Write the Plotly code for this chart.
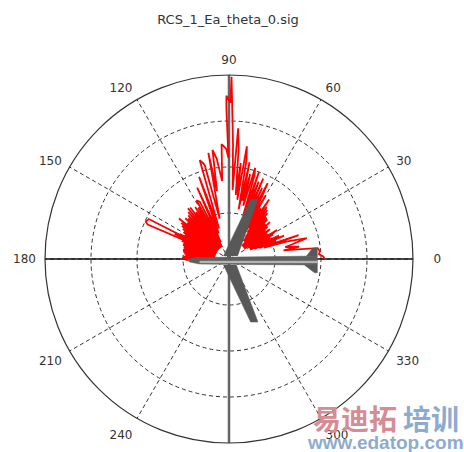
import numpy as np
import plotly.graph_objects as go

# Patron de radiacion (angulo, radio)
rcs_theta = [0, 1.5, 3, 5, 7, 8, 9, 10, 12, 13, 15, 17, 18, 19, 20, 21, 22, 23, 24, 25, 26, 27, 28, 29, 30, 31, 32, 33, 34, 35,
             36, 37, 38, 39, 40, 41, 42, 43, 44, 45, 46, 47, 48, 49, 50, 51, 52, 53, 54, 55, 56, 57, 58, 59, 60,
             61, 62, 63, 64, 65, 66, 67, 68, 69, 70, 71, 72, 73, 74, 75, 76, 77, 78, 79, 80, 81, 82, 83, 84, 85, 86, 87, 88,
             89.2, 89.5, 90.5, 90.9, 91, 90.3, 91.5, 93.7, 95, 97, 98.6, 100, 101, 103, 104.5, 105, 106.5, 108, 110, 112,
             114, 116, 117, 119, 120, 121, 122, 123, 124, 125, 126, 127, 128, 129, 130, 131, 132, 133, 134, 135, 136, 137,
             138, 139, 140, 141, 142, 143, 144, 145, 146, 147, 148, 149, 150, 151, 152, 153, 154.5, 155.2, 155.8, 153.5, 156,
             157, 158, 159, 160, 161, 162, 163, 164, 165, 166, 167, 168, 169, 170, 171, 172, 173, 174, 175, 176, 177, 178,
             179, 180, 181]
rcs_r = [20.8, 20.5, 19.6, 19.8, 19.4, 15, 12, 15.5, 12.5, 14, 17.5, 13, 8, 16, 7, 11, 6, 13, 5, 12, 6, 10, 5, 11, 6, 12.2, 5, 10, 4, 9,
         11, 4, 10, 5, 11, 4, 12, 5, 11, 4, 12, 5, 12.2, 6, 13, 5, 13.5, 6, 14, 7, 15.6, 8, 13, 7, 16,
         8, 15, 18.5, 9, 17, 9, 19, 10, 18, 11, 20, 10, 19, 20.6, 12, 19, 13, 21.5, 11, 22, 24.8, 13, 21, 14, 24, 28.5, 15, 25,
         39.6, 34, 35, 35.5, 33, 22, 24, 25, 17, 22, 24, 15, 23.5, 9, 21, 21.5, 22.4, 7, 19, 6,
         17, 4, 14, 14.6, 3, 13, 3, 13.5, 3, 12.5, 3, 14, 3, 14.2, 3, 13.5, 3, 13, 3, 12.5, 3, 13,
         3, 12, 3, 14, 3, 13, 3, 12.5, 3, 12, 3, 11.5, 3, 11, 3, 12, 3, 13, 3, 19.5, 19.8, 19.2, 4, 11,
         3, 10.5, 3, 10.5, 3, 10.2, 3, 10, 3, 10.2, 3, 10, 3, 9.8, 3, 9.5, 3, 10, 3, 10.2, 3, 9.5,
         3, 9.6, 9]

# Silueta del avion en unidades del eje radial
fuselaje_x = [-9.2, -7.5, 19.2, 19.2, 2.3, -6.4, -8.6]
fuselaje_y = [-0.2, 0.3, 0.65, -1.3, -1.2, -1.1, -0.65]
banda_x = [-6.4, 19.2, 19.2, -6.4]
banda_y = [-0.45, -0.45, -0.85, -0.85]
ala_sup_x = [-1.2, 4.7, 6.3, 1.85]
ala_sup_y = [0.65, 13, 13, 0.65]
ala_inf_x = [-1.2, 4.7, 6.3, 1.6]
ala_inf_y = [-1.3, -13.7, -13.7, -1.3]
cola_sup_x = [16.85, 18.2, 19.2, 19.2]
cola_sup_y = [0.65, 2.4, 2.4, 0.65]
cola_inf_x = [16.4, 18.6, 19.2, 19.2]
cola_inf_y = [-1.3, -3, -3, -1.3]

# Etiquetas
angulos = [0, 30, 60, 90, 120, 150, 180, 210, 240, 300, 330]
etiquetas = ["\u00a0\u00a0\u00a00", "30", "60", "90", "120", "150", "180", "210", "240", "300", "330"]
anillos = [10, 20, 30, 40]
titulo = "RCS_1_Ea_theta_0.sig"

W, H = 464, 452
GRIS = "#585858"


def a_polar(x, y):
    x = np.array(x, dtype=float)
    y = np.array(y, dtype=float)
    return np.hypot(x, y), np.degrees(np.arctan2(y, x))


def pieza(x, y, color):
    r, t = a_polar(x, y)
    return go.Scatterpolar(r=r, theta=t, mode="lines", fill="toself", fillcolor=color,
                           line=dict(color=color, width=0.5), hoverinfo="skip")


fig = go.Figure()

# Ejes principales
fig.add_trace(go.Scatterpolar(r=[40, 0, 40], theta=[90, 0, 270], mode="lines",
                              line=dict(color="#666666", width=2.5), hoverinfo="skip"))
fig.add_trace(go.Scatterpolar(r=[40, 0, 40], theta=[0, 0, 180], mode="lines",
                              line=dict(color="#111111", width=1.5), hoverinfo="skip"))

# Curva roja
fig.add_trace(go.Scatterpolar(r=rcs_r, theta=rcs_theta, mode="lines",
                              line=dict(color="#ff0000", width=1.8)))

# Avion
fig.add_trace(pieza(ala_sup_x, ala_sup_y, GRIS))
fig.add_trace(pieza(ala_inf_x, ala_inf_y, GRIS))
fig.add_trace(pieza(cola_sup_x, cola_sup_y, GRIS))
fig.add_trace(pieza(cola_inf_x, cola_inf_y, GRIS))
fig.add_trace(pieza(fuselaje_x, fuselaje_y, "#5e5e5e"))
fig.add_trace(pieza(banda_x, banda_y, "#b4b4b0"))

fig.update_layout(
    width=W, height=H,
    margin=dict(l=0, r=0, t=0, b=0),
    paper_bgcolor="white",
    showlegend=False,
    font=dict(family="DejaVu Sans", size=12, color="#333333"),
    title=dict(text=titulo, x=228 / W, xanchor="center", y=1 - 19 / H, yanchor="middle",
               font=dict(size=13, color="#333333")),
    polar=dict(
        bgcolor="white",
        domain=dict(x=[45 / W, 413 / W], y=[1 - 443 / H, 1 - 75 / H]),
        radialaxis=dict(range=[0, 40], tickvals=anillos[:-1], showticklabels=False, ticks="",
                        showline=False, gridcolor="#333333", griddash="4px,3px", gridwidth=1),
        angularaxis=dict(direction="counterclockwise", rotation=0, tickvals=angulos,
                         ticktext=etiquetas, ticks="outside", ticklen=6,
                         tickcolor="rgba(0,0,0,0)", linecolor="#333333", linewidth=1.2,
                         gridcolor="#333333", griddash="4px,3px", gridwidth=1,
                         tickfont=dict(size=12, color="#333333")),
    ),
)

# Marca de agua
fig.add_annotation(text="<b>易迪拓</b>", x=355 / W, y=1 - 418 / H, xref="paper", yref="paper", showarrow=False,
                   xanchor="center", yanchor="middle",
                   font=dict(family="Noto Sans CJK SC", size=28, color="#d58c94"))
fig.add_annotation(text="<b>培训</b>", x=431 / W, y=1 - 418 / H, xref="paper", yref="paper", showarrow=False,
                   xanchor="center", yanchor="middle",
                   font=dict(family="Noto Sans CJK SC", size=28, color="#8dabcf"))
fig.add_annotation(text="<b>www.edatop.com</b>", x=385 / W, y=1 - 442 / H, xref="paper", yref="paper", showarrow=False,
                   xanchor="center", yanchor="middle",
                   font=dict(family="Liberation Sans", size=19, color="#8dabcf"))

fig.write_html("out.html", config=dict(displayModeBar=False), post_script="document.body.style.margin='0';")
